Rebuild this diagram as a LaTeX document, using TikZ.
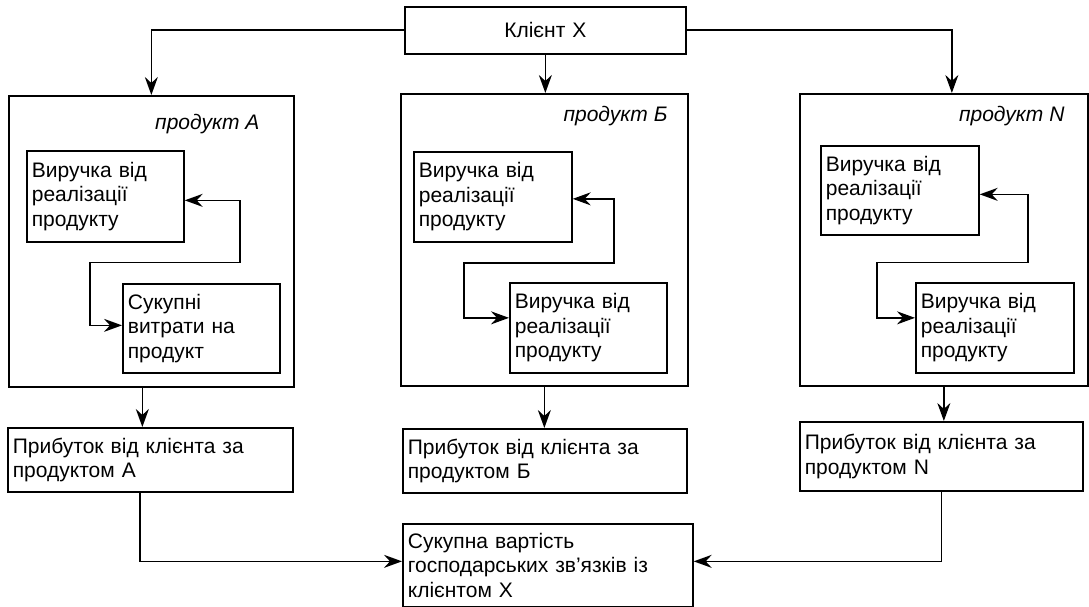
\documentclass[tikz,border=0pt]{standalone}
\usepackage{fontspec}
\setmainfont{Liberation Sans}
\usetikzlibrary{arrows.meta,positioning,calc}

\begin{document}
\begin{tikzpicture}[x=1pt,y=-1pt,
  font=\fontsize{21}{24.5}\selectfont,
  box/.style={draw,line width=1.7pt,anchor=north west,align=left,inner xsep=5pt,inner ysep=0pt},
  prodlabel/.style={anchor=east,inner sep=0pt,font=\fontsize{21}{24.5}\selectfont\itshape},
  link/.style={line width=1.7pt,-{Stealth[length=18pt,width=13pt,inset=6pt]}},
  both/.style={line width=1.7pt,{Stealth[length=18pt,width=13pt,inset=6pt]}-{Stealth[length=18pt,width=13pt,inset=6pt]}}]
\useasboundingbox (0,0) rectangle (1089,607);

\node[box,text width=271pt,minimum height=47pt,align=center] (client) at (404,6) {Клієнт Х};

\node[box,minimum width=285pt,minimum height=291pt] (prodA) at (8,95) {};
\node[box,minimum width=287pt,minimum height=292pt] (prodB) at (400,93) {};
\node[box,minimum width=288pt,minimum height=292pt] (prodN) at (799,93) {};

\node[prodlabel] (labA) at ($(prodA.north east)+(-35,29)$) {продукт А};
\node[prodlabel] (labB) at ($(prodB.north east)+(-21,23)$) {продукт Б};
\node[prodlabel] (labN) at ($(prodN.north east)+(-24,23)$) {продукт N};

\node[box,text width=147pt,minimum height=91pt] (revA) at (26,150) {Виручка від\\реалізації\\продукту};
\node[box,text width=147pt,minimum height=89pt] (costA) at (122,283) {Сукупні\\витрати на\\продукт};
\node[box,text width=148pt,minimum height=90pt] (revB) at (413,151) {Виручка від\\реалізації\\продукту};
\node[box,text width=147pt,minimum height=90pt] (revB2) at (509,282) {Виручка від\\реалізації\\продукту};
\node[box,text width=148pt,minimum height=89pt] (revN) at (820,145) {Виручка від\\реалізації\\продукту};
\node[box,text width=148pt,minimum height=90pt] (revN2) at (915,282) {Виручка від\\реалізації\\продукту};

\node[box,text width=275pt,minimum height=64pt] (profA) at (7,427) {Прибуток від клієнта за\\продуктом А};
\node[box,text width=274pt,minimum height=64pt] (profB) at (402,428) {Прибуток від клієнта за\\продуктом Б};
\node[box,text width=273pt,minimum height=69pt] (profN) at (799,421) {Прибуток від клієнта за\\продуктом N};
\node[box,text width=280pt,minimum height=83pt] (total) at (402,523) {Сукупна вартість\\господарських зв’язків із\\клієнтом Х};

% client to products
\draw[link] (client.west) -| (prodA.north);
\draw[link] (client.south) -- (client.south |- prodB.north);
\draw[link] (client.east) -| ($(prodN.north)+(8,0)$);

% loops inside the product boxes
\draw[both] ([yshift=-4pt]revA.east) -- ++(55,0) -- ++(0,62) -- ++(-150,0) |- ([yshift=3pt]costA.west);
\draw[both] ([yshift=-2pt]revB.east) -- ++(41,0) -- ++(0,64) -- ++(-150,0) |- ([yshift=10pt]revB2.west);
\draw[both] ([yshift=-4pt]revN.east) -- ++(48,0) -- ++(0,68) -- ++(-151,0) |- ([yshift=10pt]revN2.west);

\coordinate (dropA) at ($(prodA.south)+(-9,0)$);
\draw[link] (dropA) -- (dropA |- profA.north);
\draw[link] (prodB.south) -- (prodB.south |- profB.north);
\draw[link] (prodN.south) -- (prodN.south |- profN.north);

\coordinate (outA) at ($(profA.south)+(-10.5,0)$);
\draw[link] (outA) |- ([yshift=4pt]total.west);
\draw[link] (profN.south) |- ([yshift=4pt]total.east);
\end{tikzpicture}
\end{document}
